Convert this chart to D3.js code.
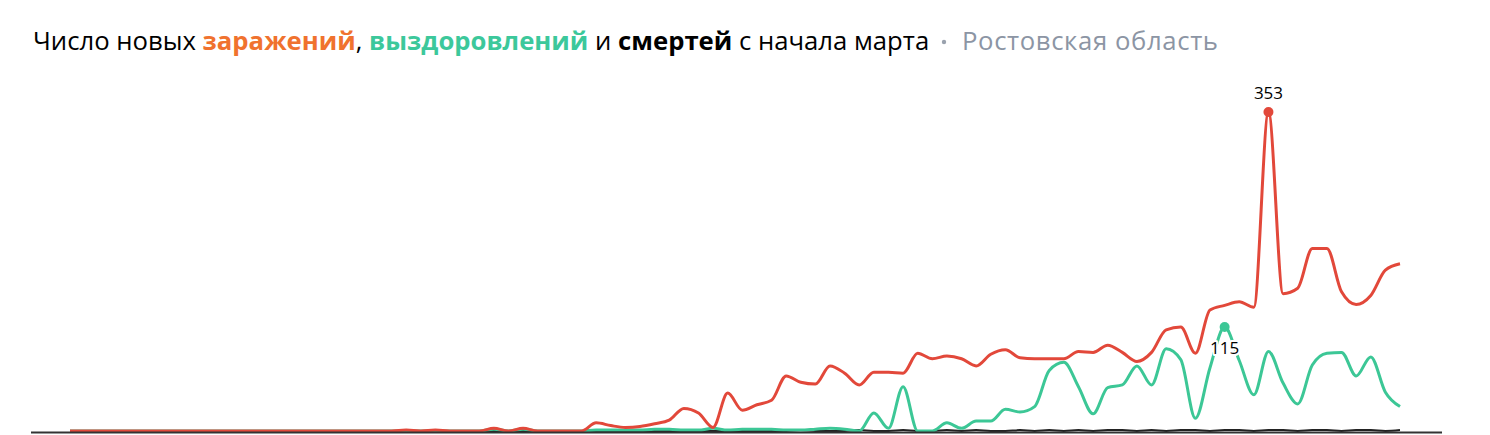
<!DOCTYPE html>
<html>
<head>
<meta charset="utf-8">
<script src="https://cdn.jsdelivr.net/npm/d3@7"></script>
<style>
  body { margin: 0; background: #fff; }
  svg { display: block; font-family: "Open Sans", sans-serif; }
</style>
</head>
<body>
<script>
// daily values, 1 March .. 31 May
var infected = [
  0, 0, 0, 0, 0, 0, 0, 0, 0, 0,
  0, 0, 0, 0, 0, 0, 0, 0, 0, 0,
  0, 0, 0, 1, 0, 1, 0, 0, 0, 3,
  0, 3, 0, 0, 0, 0, 9, 6, 4, 5,
  8, 12, 25, 20, 4, 42, 23, 29, 34, 61,
  54, 52, 72, 64, 51, 65, 65, 64, 86, 80,
  83, 80, 72, 85, 90, 81, 80, 80, 80, 88,
  87, 95, 87, 77, 87, 112, 115, 86, 134, 139,
  143, 137, 353, 152, 158, 202, 202, 154, 140, 150,
  178, 185
];
var recovered = [
  0, 0, 0, 0, 0, 0, 0, 0, 0, 0,
  0, 0, 0, 0, 0, 0, 0, 0, 0, 0,
  0, 0, 0, 0, 0, 0, 0, 0, 0, 2,
  0, 2, 0, 0, 0, 0, 1, 1, 1, 1,
  2, 2, 1, 1, 3, 1, 2, 2, 2, 1,
  1, 2, 3, 2, 0, 20, 3, 49, 0, 0,
  9, 3, 11, 11, 24, 21, 27, 67, 76, 49,
  19, 48, 51, 72, 51, 91, 79, 14, 70, 115,
  78, 40, 88, 53, 30, 73, 86, 87, 61, 82,
  43, 27
];
var deaths = [
  0, 0, 0, 0, 0, 0, 0, 0, 0, 0,
  0, 0, 0, 0, 0, 0, 0, 0, 0, 0,
  0, 0, 0, 0, 0, 0, 0, 0, 0, 0,
  0, 0, 0, 0, 0, 0, 0, 0, 0, 0,
  0, 0, 0, 0, 0, 0, 0, 0, 0, 0,
  1, 0, 0, 0, 1, 0, 0, 1, 0, 0,
  1, 0, 1, 0, 0, 1, 0, 1, 0, 1,
  0, 1, 1, 0, 1, 0, 1, 1, 0, 1,
  1, 0, 1, 1, 0, 1, 1, 0, 1, 1,
  0, 1
];

var titleParts = [
  { t: "Число новых ", c: "#000", w: 400 },
  { t: "заражений", c: "#f0722e", w: 700 },
  { t: ", ", c: "#000", w: 400 },
  { t: "выздоровлений", c: "#3cc89b", w: 700 },
  { t: " и ", c: "#000", w: 400 },
  { t: "смертей", c: "#000", w: 700 },
  { t: " с начала марта", c: "#000", w: 400 }
];
var subtitle = "Ростовская область";

var width = 1490, height = 435;
var svg = d3.select("body").append("svg")
  .attr("width", width)
  .attr("height", height);

svg.append("text")
  .attr("x", 33)
  .attr("y", 50)
  .attr("font-size", 25.7)
  .style("white-space", "pre")
  .selectAll("tspan")
  .data(titleParts)
  .enter().append("tspan")
  .attr("fill", function (d) { return d.c; })
  .attr("font-weight", function (d) { return d.w; })
  .text(function (d) { return d.t; });

svg.append("circle")
  .attr("cx", 944).attr("cy", 42).attr("r", 2.2)
  .attr("fill", "#9aa2ae");
svg.append("text")
  .attr("x", 962)
  .attr("y", 50)
  .attr("font-size", 25.7)
  .attr("fill", "#8c95a4")
  .attr("textLength", 256)
  .text(subtitle);

var x = d3.scaleLinear().domain([0, infected.length - 1]).range([70, 1400]);
var y = d3.scaleLinear().domain([0, 353]).range([431, 112]);

var line = d3.line()
  .x(function (d, i) { return x(i); })
  .y(function (d) { return y(d); })
  .curve(d3.curveMonotoneX);

var series = [
  { values: deaths, color: "#222" },
  { values: recovered, color: "#3cc796" },
  { values: infected, color: "#e2483a" }
];

svg.selectAll("path.series")
  .data(series)
  .enter().append("path")
  .attr("class", "series")
  .attr("fill", "none")
  .attr("stroke", function (d) { return d.color; })
  .attr("stroke-width", function (d, i) { return i === 0 ? 2 : 3; })
  .attr("stroke-linejoin", "round")
  .attr("d", function (d) { return line(d.values); });

// baseline
svg.append("line")
  .attr("x1", 31).attr("x2", 1442)
  .attr("y1", 432.5).attr("y2", 432.5)
  .attr("stroke", "#333")
  .attr("stroke-width", 2);

// maxima
var marks = [series[1], series[2]].map(function (s) {
  var i = d3.maxIndex(s.values);
  return { i: i, v: s.values[i], color: s.color, below: s === series[1] };
});

var m = svg.selectAll("g.mark").data(marks).enter().append("g").attr("class", "mark");
m.append("circle")
  .attr("cx", function (d) { return x(d.i); })
  .attr("cy", function (d) { return y(d.v); })
  .attr("r", 5)
  .attr("fill", function (d) { return d.color; });
m.append("text")
  .attr("x", function (d) { return x(d.i); })
  .attr("y", function (d) { return d.below ? y(d.v) + 27 : y(d.v) - 13; })
  .attr("text-anchor", "middle")
  .attr("font-size", 17)
  .attr("fill", "#000")
  .attr("stroke", "#fff")
  .attr("stroke-width", 4)
  .attr("stroke-linejoin", "round")
  .attr("paint-order", "stroke")
  .text(function (d) { return d.v; });
</script>
</body>
</html>
